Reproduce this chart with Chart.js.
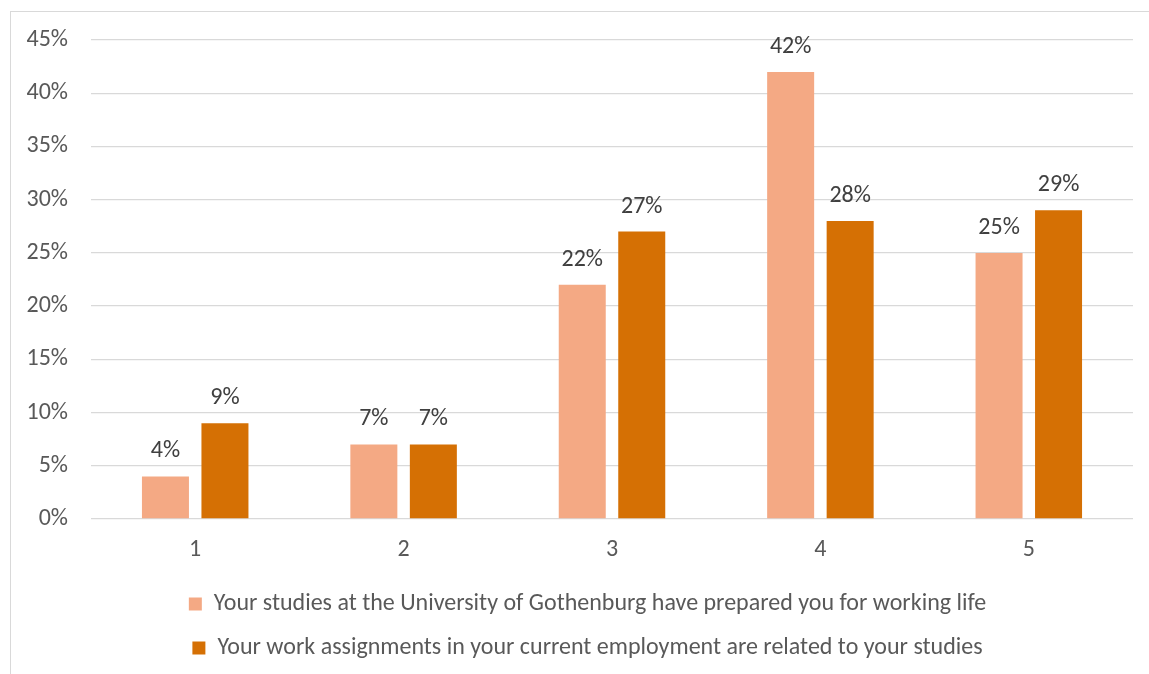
<!DOCTYPE html>
<html>
<head>
<meta charset="utf-8">
<script src="https://cdn.jsdelivr.net/npm/chart.js@4.4.0/dist/chart.umd.min.js"></script>
<style>
  html, body { margin: 0; padding: 0; background: #ffffff; }
  #wrap { position: relative; width: 1149px; height: 674px; overflow: hidden; }
  #frame { position: absolute; left: 10px; top: 11px; width: 1200px; height: 700px; border: 1px solid #d9d9d9; box-sizing: border-box; }
  canvas { position: absolute; left: 0; top: 0; }
</style>
</head>
<body>
<div id="wrap">
  <div id="frame"></div>
  <canvas id="c" width="1149" height="674"></canvas>
</div>
<script>
const categories = ['1', '2', '3', '4', '5'];
const seriesNames = [
  'Your studies at the University of Gothenburg have prepared you for working life',
  'Your work assignments in your current employment are related to your studies'
];
const preparedValues = [4, 7, 22, 42, 25];
const relatedValues = [9, 7, 27, 28, 29];
const yTicks = [0, 5, 10, 15, 20, 25, 30, 35, 40, 45];

const FONT = 'Carlito, Calibri, Lato, sans-serif';

const dataLabels = {
  id: 'dataLabels',
  afterDatasetsDraw(chart) {
    const ctx = chart.ctx;
    ctx.save();
    ctx.font = '24px ' + FONT;
    ctx.fillStyle = '#404040';
    ctx.textAlign = 'center';
    ctx.textBaseline = 'middle';
    chart.data.datasets.forEach((ds, i) => {
      const meta = chart.getDatasetMeta(i);
      meta.data.forEach((el, j) => {
        ctx.fillText(ds.data[j] + '%', el.x, el.y - 25);
      });
    });
    ctx.restore();
  }
};

const legendShift = {
  id: 'legendShift',
  afterLayout(chart) {
    if (chart.legend) {
      chart.legend.left += 21;
      chart.legend.right += 21;
    }
  }
};

new Chart(document.getElementById('c'), {
  type: 'bar',
  data: {
    labels: categories,
    datasets: [
      { label: seriesNames[0], data: preparedValues, backgroundColor: '#F4A984',
        categoryPercentage: 0.571, barPercentage: 0.79 },
      { label: seriesNames[1], data: relatedValues, backgroundColor: '#D57004',
        categoryPercentage: 0.571, barPercentage: 0.79 }
    ]
  },
  options: {
    responsive: false,
    animation: false,
    devicePixelRatio: 1,
    layout: { padding: { top: 40, right: 16, bottom: 4, left: 0 } },
    plugins: {
      tooltip: { enabled: false },
      legend: {
        position: 'bottom',
        labels: {
          font: { family: FONT, size: 24 },
          color: '#595959',
          boxWidth: 13,
          boxHeight: 13,
          padding: 20
        }
      }
    },
    scales: {
      x: {
        grid: { display: false, drawTicks: false },
        border: { display: false },
        ticks: { font: { family: FONT, size: 24 }, color: '#595959', padding: 17 },
        afterFit(scale) { scale.height = 53; }
      },
      y: {
        min: 0,
        max: 45,
        afterBuildTicks(scale) { scale.ticks = yTicks.map(v => ({ value: v })); },
        grid: { color: '#d9d9d9', lineWidth: 1.3, drawTicks: false },
        border: { display: false },
        ticks: {
          font: { family: FONT, size: 24 },
          color: '#595959',
          padding: 23,
          callback: v => v + '%'
        },
        afterFit(scale) { scale.width = 91; }
      }
    }
  },
  plugins: [dataLabels, legendShift]
});
</script>
</body>
</html>
